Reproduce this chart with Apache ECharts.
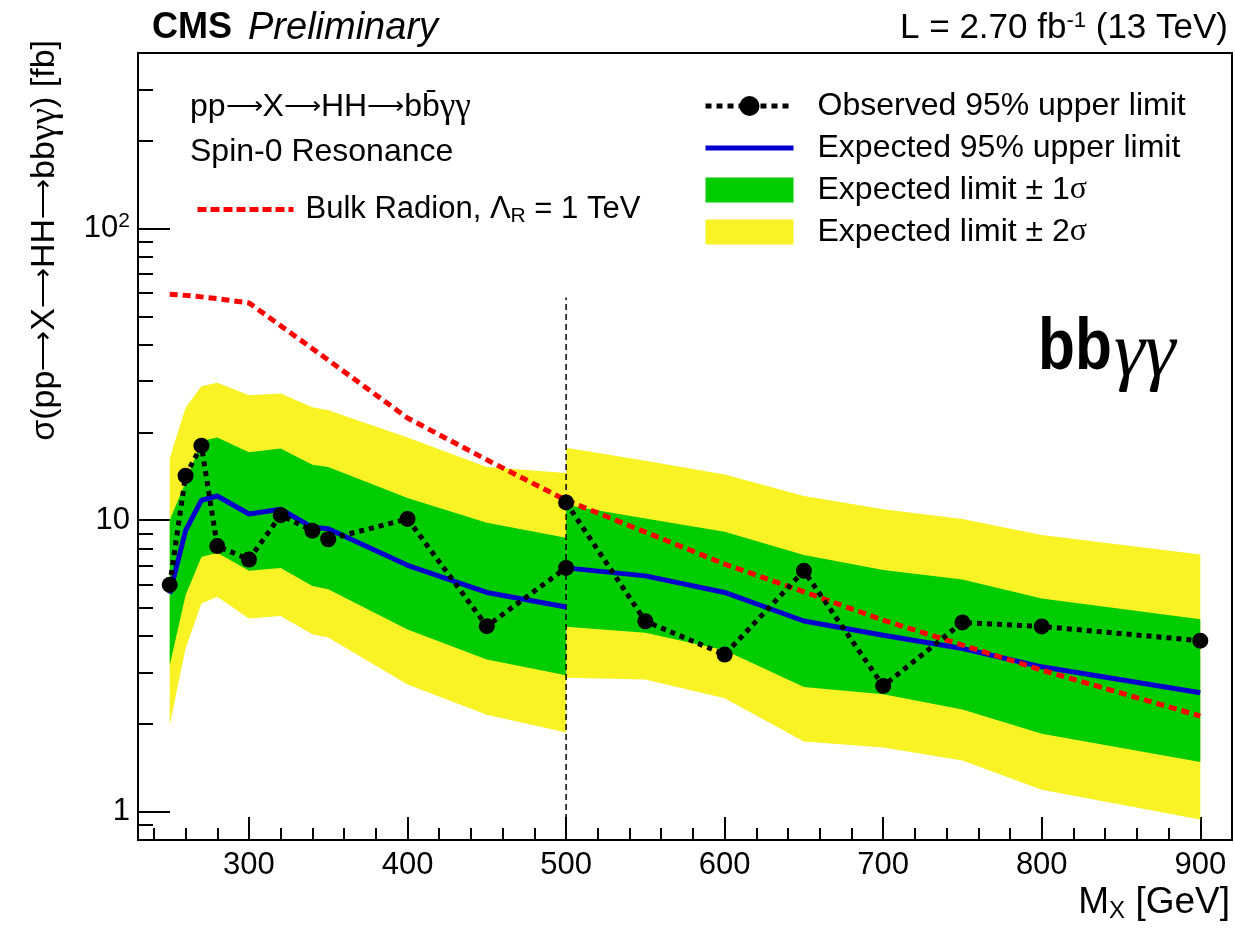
<!DOCTYPE html>
<html>
<head>
<meta charset="utf-8">
<title>bbγγ spin-0 limits</title>
<script src="https://cdn.jsdelivr.net/npm/echarts@6/dist/echarts.min.js"></script>
<style>
  html, body { margin: 0; padding: 0; background: #fff; }
  #chart { width: 1235px; height: 929px; }
</style>
</head>
<body>
<div id="chart"></div>
<script>
"use strict";

/* ---------- data ---------- */

// low-mass analysis, 250–500 GeV
const massLow = [250, 260, 270, 280, 300, 320, 340, 350, 400, 450, 500];
const obsLow  = [6.0, 14.2, 18.0, 8.15, 7.33, 10.4, 9.2, 8.6, 10.1, 4.33, 6.86];
const expLow  = [5.6, 9.2, 11.7, 12.1, 10.5, 10.9, 9.45, 9.35, 7.0, 5.65, 5.04];
const p1Low   = [10.0, 13.5, 18.7, 19.2, 17.1, 17.6, 15.5, 15.2, 11.9, 9.8, 8.7];
const m1Low   = [3.18, 5.53, 7.48, 7.73, 6.70, 6.86, 5.94, 5.80, 4.22, 3.33, 2.94];
const p2Low   = [16.3, 24.3, 28.8, 29.6, 26.8, 27.2, 24.4, 23.8, 19.2, 15.2, 14.5];
const m2Low   = [1.98, 3.63, 5.18, 5.46, 4.60, 4.69, 4.06, 3.96, 2.73, 2.15, 1.87];

// high-mass analysis, 500–900 GeV
const massHigh = [500, 550, 600, 650, 700, 750, 800, 900];
const obsHigh  = [11.5, 4.5, 3.46, 6.7, 2.7, 4.46, 4.32, 3.86];
const expHigh  = [6.86, 6.44, 5.65, 4.51, 4.03, 3.63, 3.14, 2.56];
const p1High   = [11.26, 10.13, 9.12, 7.59, 6.74, 6.26, 5.39, 4.57];
const m1High   = [4.31, 4.11, 3.58, 2.68, 2.53, 2.24, 1.85, 1.48];
const p2High   = [17.7, 16.0, 14.35, 12.1, 10.9, 10.1, 8.9, 7.63];
const m2High   = [2.88, 2.84, 2.45, 1.74, 1.66, 1.50, 1.19, 0.94];

// bulk radion, Lambda_R = 1 TeV
const massRadion = [250, 260, 270, 280, 300, 350, 400, 450, 500, 550, 600, 650, 700, 750, 800, 900];
const radion     = [59.5, 59.0, 58.3, 57.5, 55.6, 35.4, 22.4, 16.1, 11.7, 9.1, 7.07, 5.68, 4.54, 3.73, 3.06, 2.13];

// boundary between the two analyses
const cutMass  = 500;
const cutRange = [0.8, 58];

// axes
const xRange = [230, 920];
const yRange = [0.8, 400];
const xMajor = [300, 400, 500, 600, 700, 800, 900];
const xMinor = [240, 260, 280, 320, 340, 360, 380, 420, 440, 460, 480, 520, 540, 560, 580,
                620, 640, 660, 680, 720, 740, 760, 780, 820, 840, 860, 880];
const yMajor = [1, 10, 100];
const yMinor = [0.9, 2, 3, 4, 5, 6, 7, 8, 9, 20, 30, 40, 50, 60, 70, 80, 90, 200, 300];

// legend names
const N_OBS = "Observed 95% upper limit";
const N_EXP = "Expected 95% upper limit";
const N_1S  = "Expected limit ± 1σ";
const N_2S  = "Expected limit ± 2σ";
const N_RAD = "Bulk Radion, Λ_R = 1 TeV";

/* ---------- style ---------- */
const FONT  = '"Liberation Sans", Arial, Helvetica, sans-serif';
const ARROW = '"DejaVu Sans ExtraLight", "DejaVu Sans", sans-serif';   // long thin arrows, like ROOT
const SERIF = '"Liberation Serif", "DejaVu Serif", serif';
const C = { yellow: "#f9f225", green: "#00cc00", blue: "#0000cd", red: "#ff0000", black: "#000" };

/* ---------- helpers ---------- */
const pairs = (xs, ys) => xs.map((x, i) => [x, ys[i]]);

// filled band between lo and hi, drawn as one polygon through the axes
function band(name, mass, lo, hi, color, z) {
    return {
        type: "custom", name: name, z: z, silent: true,
        itemStyle: { color: color },
        encode: { x: 0, y: [1, 2] },
        data: mass.map((m, i) => [m, lo[i], hi[i]]),
        renderItem: function (params, api) {
            if (params.dataIndex !== 0) return null;
            const pts = [];
            for (let i = 0; i < mass.length; i++) pts.push(api.coord([mass[i], hi[i]]));
            for (let i = mass.length - 1; i >= 0; i--) pts.push(api.coord([mass[i], lo[i]]));
            return { type: "polygon", shape: { points: pts }, style: { fill: color } };
        }
    };
}

function line(name, data, color, width, type, z, dots) {
    return {
        type: "line", name: name, z: z, data: data, silent: true,
        symbol: dots ? "circle" : "none", symbolSize: 16, showSymbol: !!dots,
        itemStyle: { color: color },
        lineStyle: { color: color, width: width, type: type, cap: "butt" }
    };
}

// axis pair: majors with labels, minors as a second overlaid axis
function axisPair(kind, range, major, minor, majLen, minLen, labelFmt) {
    const common = {
        min: range[0], max: range[1], splitLine: { show: false },
        position: kind === "x" ? "bottom" : "left"
    };
    const type = kind === "x" ? "value" : "log";
    return [
        Object.assign({}, common, {
            type: type,
            axisLine: { show: true, lineStyle: { color: C.black, width: 2 } },
            axisTick: { show: true, inside: true, length: majLen, customValues: major,
                        lineStyle: { color: C.black, width: 2 } },
            axisLabel: {
                customValues: major, color: C.black, fontSize: 31, fontFamily: FONT,
                margin: kind === "x" ? 10 : 8, formatter: labelFmt,
                rich: { sup: { fontSize: 21, fontFamily: FONT, color: C.black, padding: [0, 0, 14, 0] },
                        n: { fontSize: 31, fontFamily: FONT, color: C.black } }
            }
        }),
        Object.assign({}, common, {
            type: type,
            axisLine: { show: false },
            axisTick: { show: true, inside: true, length: minLen, customValues: minor,
                        lineStyle: { color: C.black, width: 2 } },
            axisLabel: { show: false }
        })
    ];
}

// ROOT-like text: long thin arrows and serif gammas
const rootText = s => s.split("→").join("{a|⟶}").split("γγ").join("{g|γγ}");
const rootRich = size => ({
    a: { fontSize: size * 0.82, fontFamily: ARROW, fontWeight: 200, fill: C.black },
    g: { fontSize: size * 1.1, fontFamily: SERIF, fill: C.black }
});

/* ---------- chart ---------- */
const chart = echarts.init(document.getElementById("chart"));

chart.setOption({
    animation: false,
    backgroundColor: "#fff",
    textStyle: { fontFamily: FONT },
    grid: { left: 138, right: 3, top: 53, bottom: 89, show: true,
            borderColor: C.black, borderWidth: 2, backgroundColor: "transparent" },
    xAxis: axisPair("x", xRange, xMajor, xMinor, 23, 12, v => String(v)),
    yAxis: axisPair("y", yRange, yMajor, yMinor, 32, 15,
                    v => (v === 100 ? "{n|10}{sup|2}" : "{n|" + v + "}")),
    legend: [
        {
            data: [{ name: N_RAD, itemStyle: { opacity: 0 }, lineStyle: { width: 5, type: [9, 4] } }],
            orient: "vertical", left: 190, top: 189,
            itemWidth: 96, itemHeight: 25, selectedMode: false,
            formatter: () => "Bulk Radion, {n|Λ}{sub|R}{n| = 1 TeV}",
            textStyle: {
                fontSize: 31, color: C.black, fontFamily: FONT, padding: [0, 0, 0, 7],
                rich: { n: { fontSize: 31, fontFamily: FONT, color: C.black },
                        sub: { fontSize: 21, fontFamily: FONT, color: C.black, padding: [14, 0, 0, 0] } }
            }
        },
        {
            data: [
                { name: N_OBS, lineStyle: { width: 5, type: [6, 5] } },
                { name: N_EXP, itemStyle: { opacity: 0 }, lineStyle: { width: 5 } },
                { name: N_1S, icon: "rect" },
                { name: N_2S, icon: "rect" }
            ],
            orient: "vertical", left: 698, top: 85,
            itemWidth: 88, itemHeight: 25, itemGap: 10, selectedMode: false,
            formatter: n => n.replace("σ", "{s|σ}"),
            textStyle: {
                fontSize: 32, color: C.black, fontFamily: FONT, padding: [0, 0, 0, 19],
                rich: { s: { fontSize: 32, fontFamily: SERIF, color: C.black } }
            }
        }
    ],
    graphic: [
        { type: "text", left: 152, top: 10,
          style: { text: "CMS", fontSize: 36, fontWeight: "bold", fontFamily: FONT, fill: C.black } },
        { type: "text", left: 248, top: 9,
          style: { text: "Preliminary", fontSize: 38, fontStyle: "italic", fontFamily: FONT, fill: C.black } },
        { type: "text", right: 7, top: 10,
          style: { text: "L = 2.70 fb{sup|-1} (13 TeV)", fontSize: 35, fontFamily: FONT, fill: C.black,
                   rich: { sup: { fontSize: 22, fontFamily: FONT, fill: C.black, padding: [0, 0, 15, 0] } } } },
        { type: "text", left: 190, top: 90,
          style: { text: rootText("pp→X→HH→bb\u0304γγ"), fontSize: 32, fontFamily: FONT, fill: C.black,
                   rich: rootRich(32) } },
        { type: "text", left: 190, top: 136,
          style: { text: "Spin-0 Resonance", fontSize: 32, fontFamily: FONT, fill: C.black } },
        { type: "text", x: 1038, y: 349, scaleX: 0.84,
          style: { text: "bb", fontSize: 72, fontWeight: "bold", fontFamily: FONT, fill: C.black,
                   verticalAlign: "middle" } },
        { type: "text", x: 1114, y: 354,
          style: { text: "γγ", fontSize: 78, fontStyle: "italic", fontFamily: SERIF, fill: C.black,
                   verticalAlign: "middle" } },
        { type: "text", x: 45, y: 40, rotation: Math.PI / 2,
          style: { text: rootText("σ(pp→X→HH→bbγγ) [fb]"), fontSize: 34, fontFamily: FONT, fill: C.black,
                   align: "right", verticalAlign: "middle", rich: rootRich(34) } },
        { type: "text", x: 1230, y: 903,
          style: { text: "M{sub|X} [GeV]", fontSize: 37, fontFamily: FONT, fill: C.black,
                   align: "right", verticalAlign: "middle",
                   rich: { sub: { fontSize: 24, fontFamily: FONT, fill: C.black, padding: [16, 0, 0, 0] } } } }
    ],
    series: [
        band(N_2S, massLow,  m2Low,  p2Low,  C.yellow, 1),
        band(N_2S, massHigh, m2High, p2High, C.yellow, 1),
        band(N_1S, massLow,  m1Low,  p1Low,  C.green, 2),
        band(N_1S, massHigh, m1High, p1High, C.green, 2),
        line("cut", pairs([cutMass, cutMass], cutRange), C.black, 1.5, [6, 4], 3, false),
        line(N_EXP, pairs(massLow, expLow), C.blue, 5, "solid", 4, false),
        line(N_EXP, pairs(massHigh, expHigh), C.blue, 5, "solid", 4, false),
        line(N_RAD, pairs(massRadion, radion), C.red, 5, [8, 5], 5, false),
        line(N_OBS, pairs(massLow, obsLow), C.black, 5, [5, 5], 6, true),
        line(N_OBS, pairs(massHigh, obsHigh), C.black, 5, [5, 5], 6, true)
    ]
});

window.addEventListener("resize", () => chart.resize());
</script>
</body>
</html>
